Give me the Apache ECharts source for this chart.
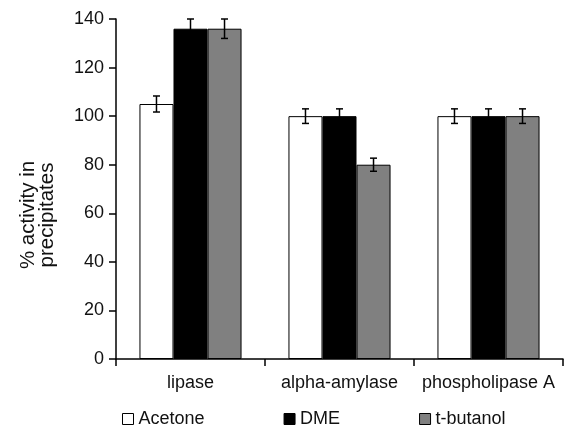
<!DOCTYPE html>
<html>
<head>
<meta charset="utf-8">
<script src="https://cdn.jsdelivr.net/npm/echarts@6/dist/echarts.min.js"></script>
<style>html,body{margin:0;padding:0;background:#fff;}#c{width:565px;height:427px;}</style>
</head>
<body>
<div id="c"></div>
<script>
var categories = ['lipase', 'alpha-amylase', 'phospholipase A'];
var seriesNames = ['Acetone', 'DME', 't-butanol'];
var acetone = [105, 100, 100];
var dme = [136, 100, 100];
var tbutanol = [136, 80, 100];
var acetoneErr = [3.3, 3, 3];
var dmeErr = [4, 3, 3];
var tbutanolErr = [4, 2.7, 3];
var yTicks = [0, 20, 40, 60, 80, 100, 120, 140];

var values = [acetone, dme, tbutanol];
var errs = [acetoneErr, dmeErr, tbutanolErr];
var colors = ['#ffffff', '#000000', '#808080'];
var catGap = 0.315;
var font = '"Liberation Sans", Arial, Helvetica, sans-serif';

var chart = echarts.init(document.getElementById('c'));

var series = [];
values.forEach(function (arr, i) {
  series.push({
    name: seriesNames[i],
    type: 'bar',
    data: arr,
    barGap: '0%',
    barCategoryGap: (catGap * 100) + '%',
    itemStyle: { color: colors[i], borderColor: '#000', borderWidth: 1 },
    emphasis: { disabled: true },
    animation: false
  });
});
values.forEach(function (arr, i) {
  var data = arr.map(function (v, j) { return [j, v - errs[i][j], v + errs[i][j]]; });
  series.push({
    type: 'custom',
    data: data,
    z: 10,
    silent: true,
    animation: false,
    renderItem: function (params, api) {
      var cat = api.value(0);
      var lo = api.coord([cat, api.value(1)]);
      var hi = api.coord([cat, api.value(2)]);
      var band = api.size([1, 0])[0];
      var barW = band * (1 - catGap) / 3;
      var x = lo[0] + (i - 1) * barW;
      var cap = 3.5;
      var st = { stroke: '#000', lineWidth: 1.5 };
      return {
        type: 'group',
        children: [
          { type: 'line', shape: { x1: x, y1: lo[1], x2: x, y2: hi[1] }, style: st },
          { type: 'line', shape: { x1: x - cap, y1: lo[1], x2: x + cap, y2: lo[1] }, style: st },
          { type: 'line', shape: { x1: x - cap, y1: hi[1], x2: x + cap, y2: hi[1] }, style: st }
        ]
      };
    }
  });
});

chart.setOption({
  animation: false,
  backgroundColor: '#fff',
  grid: { left: 116, right: 2, top: 19, bottom: 68, containLabel: false },
  legend: {
    data: seriesNames.map(function (n, i) { return { name: n, icon: 'rect', itemStyle: { color: colors[i], borderColor: '#000', borderWidth: 1 } }; }),
    left: 117,
    top: 405,
    itemWidth: 11,
    itemHeight: 11,
    itemGap: 79,
    textStyle: { fontFamily: font, fontSize: 18, color: '#111' },
    selectedMode: false
  },
  xAxis: {
    type: 'category',
    data: categories,
    axisLine: { lineStyle: { color: '#000', width: 1.5 } },
    axisTick: { show: true, length: 7, lineStyle: { color: '#000', width: 1.5 } },
    axisLabel: { fontFamily: font, fontSize: 18, color: '#111', margin: 15, interval: 0 }
  },
  yAxis: {
    type: 'value',
    min: yTicks[0],
    max: yTicks[yTicks.length - 1],
    interval: yTicks[1] - yTicks[0],
    splitLine: { show: false },
    axisLine: { show: true, lineStyle: { color: '#000', width: 1.5 } },
    axisTick: { show: true, length: 7, lineStyle: { color: '#000', width: 1.5 } },
    axisLabel: { fontFamily: font, fontSize: 18, color: '#111', margin: 12 }
  },
  graphic: [{
    type: 'text',
    x: 38,
    y: 215,
    rotation: Math.PI / 2,
    style: {
      text: '% activity in\nprecipitates',
      fontFamily: font,
      fontSize: 20.5,
      lineHeight: 19,
      fill: '#111',
      align: 'center',
      verticalAlign: 'middle'
    }
  }],
  series: series
});
</script>
</body>
</html>
